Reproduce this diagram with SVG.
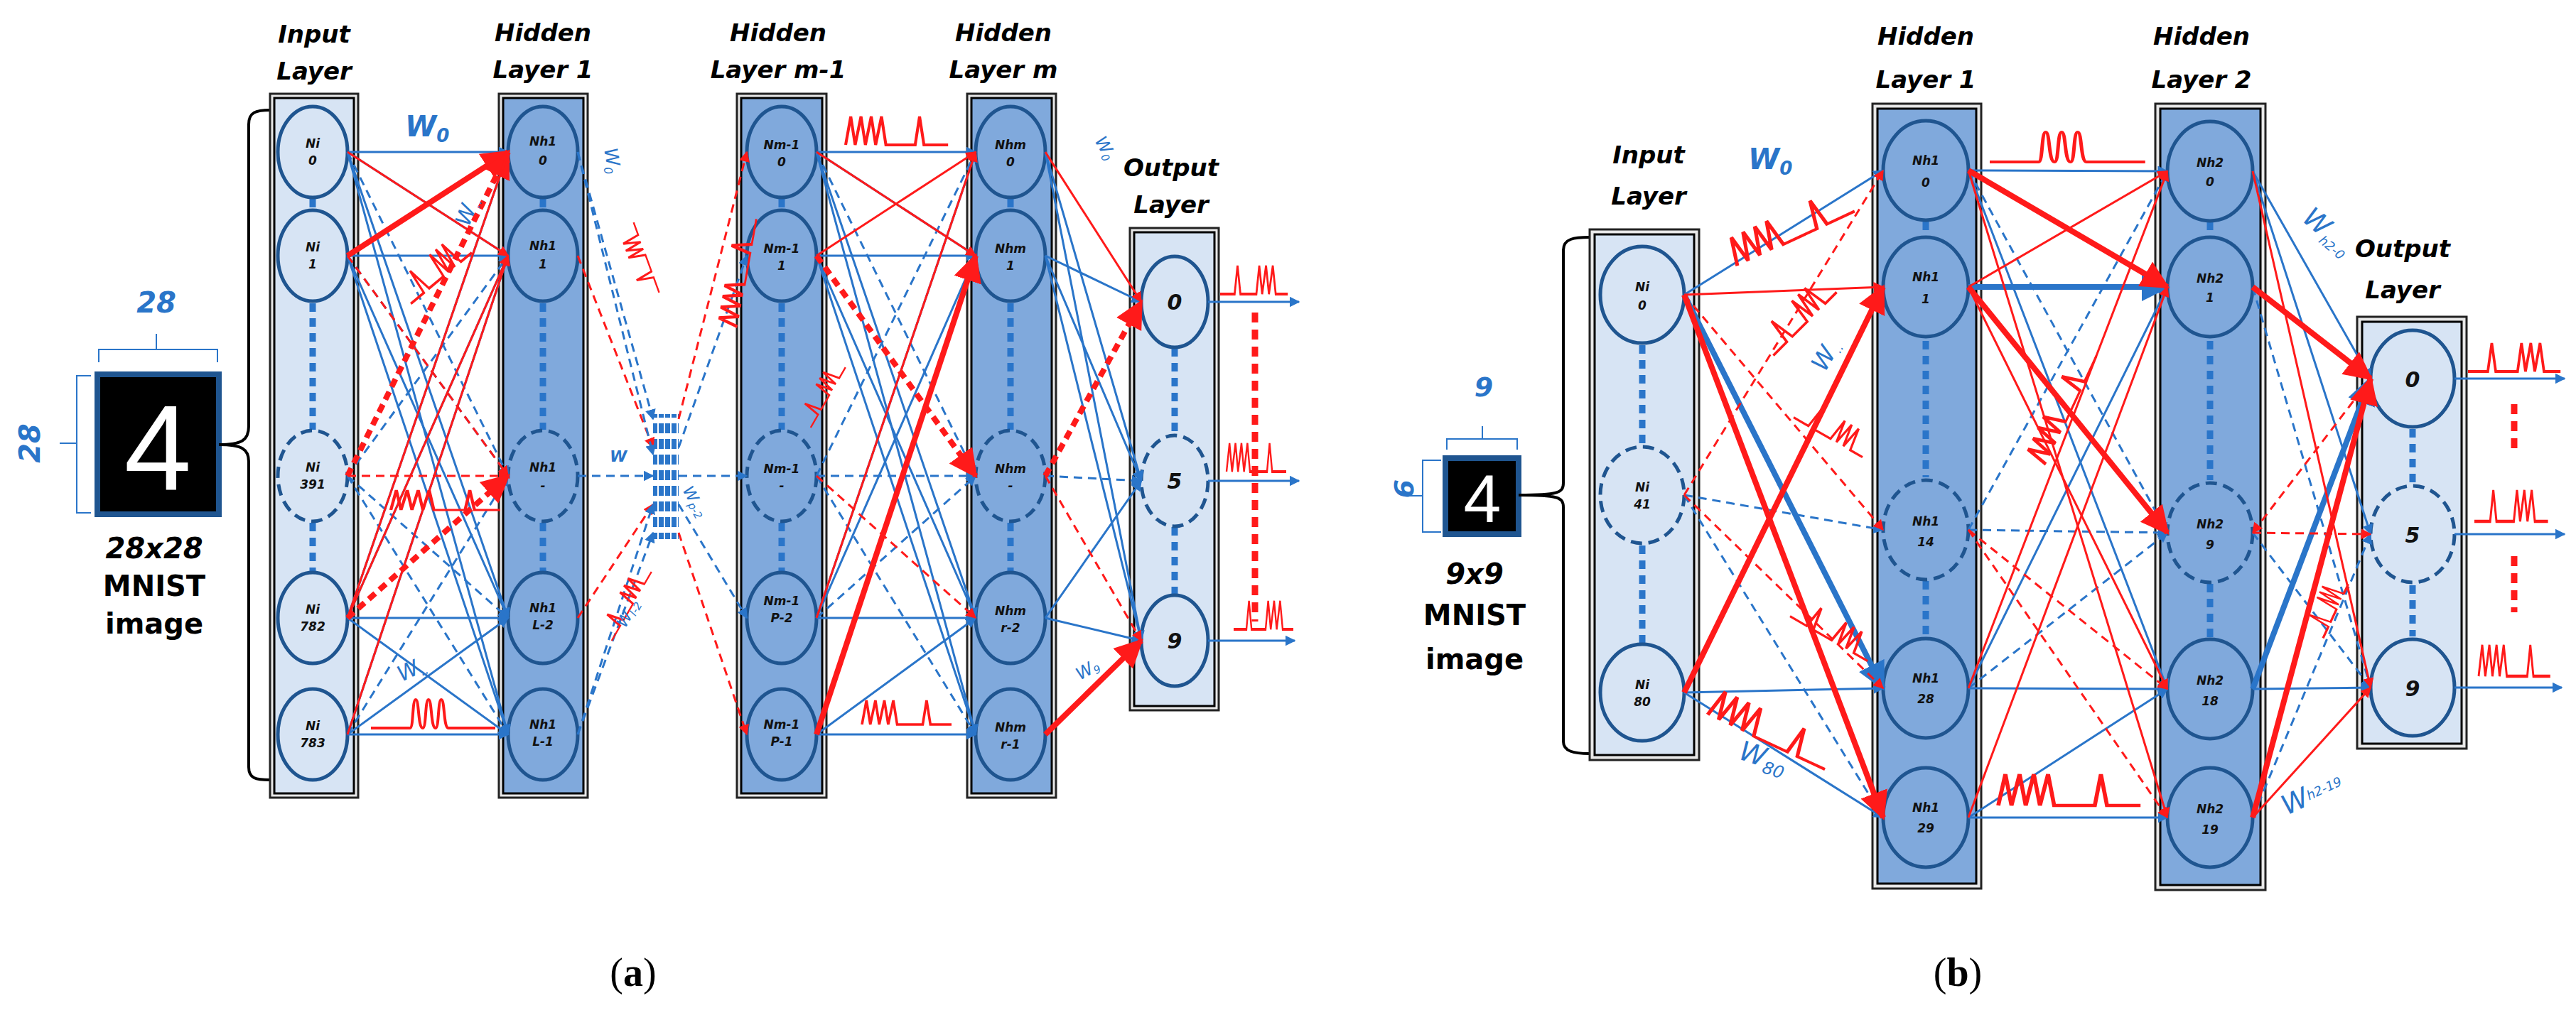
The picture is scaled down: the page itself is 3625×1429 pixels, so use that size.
<svg xmlns="http://www.w3.org/2000/svg" width="3625" height="1429" viewBox="0 0 3625 1429">
<style>
.title{font-family:"DejaVu Sans",sans-serif;font-weight:bold;font-style:italic;font-size:34px;fill:#000;text-anchor:middle}
.nl{font-family:"DejaVu Sans",sans-serif;font-weight:bold;font-style:italic;font-size:17px;fill:#111;text-anchor:middle}
.ol{font-family:"DejaVu Sans",sans-serif;font-weight:bold;font-style:italic;font-size:30px;fill:#111;text-anchor:middle}
.wl{font-family:"DejaVu Sans",sans-serif;font-style:italic;fill:#2a75c9}
.bl{font-family:"DejaVu Sans",sans-serif;font-weight:bold;font-style:italic;fill:#2a75c9;text-anchor:middle}
.cap{font-family:"Liberation Serif",serif;font-size:56px;fill:#000;text-anchor:middle}
.img{font-family:"DejaVu Sans",sans-serif;font-weight:bold;font-size:40px;fill:#000;text-anchor:middle}
.boxL{fill:#d7e4f4;stroke:#000;stroke-width:3}
.boxD{fill:#80a9dc;stroke:#000;stroke-width:3}
.outer{fill:#e8e8e8;stroke:#222;stroke-width:3}
.nd{fill:#d7e4f4;stroke:#1f5590;stroke-width:5}
.ndD{fill:#80a9dc;stroke:#1f5590;stroke-width:5}
.dash{stroke-dasharray:16 9}
.vdot{stroke:#2a75c9;stroke-width:9;stroke-dasharray:12 9;fill:none}
.b{stroke:#2a75c9;stroke-width:3;fill:none;marker-end:url(#ab)}
.bt{stroke:#2a75c9;stroke-width:8;fill:none;marker-end:url(#ab)}
.r{stroke:#ff1a1a;stroke-width:3;fill:none;marker-end:url(#ar)}
.rt{stroke:#ff1a1a;stroke-width:8;fill:none;marker-end:url(#ar)}
.d{stroke-dasharray:12 8}
.sp{stroke:#ff1a1a;stroke-width:4;fill:none}
.rdot{stroke:#ff1a1a;stroke-width:9;stroke-dasharray:14 10;fill:none}
.br{fill:none;stroke:#000;stroke-width:4}
.brb{fill:none;stroke:#2a75c9;stroke-width:2}
</style>
<defs>
<marker id="ab" viewBox="0 0 10 10" refX="9" refY="5" markerWidth="5" markerHeight="5" orient="auto" markerUnits="strokeWidth"><path d="M0,0 L10,5 L0,10 z" fill="#2a75c9"/></marker>
<marker id="ar" viewBox="0 0 10 10" refX="9" refY="5" markerWidth="5" markerHeight="5" orient="auto" markerUnits="strokeWidth"><path d="M0,0 L10,5 L0,10 z" fill="#ff1a1a"/></marker>
<pattern id="grid" width="9" height="22" patternUnits="userSpaceOnUse"><rect x="0" y="2" width="7" height="14" fill="#2a75c9"/></pattern>
<path id="t3" d="M0,40 H55 C60,40 58,0 63,0 C68,0 66,40 73,40 C78,40 76,0 81,0 C86,0 84,40 91,40 C96,40 94,0 99,0 C104,0 102,40 109,40 H175"/>
<path id="t5" d="M0,40 L7,0 L13,40 L21,0 L27,40 L35,0 L41,40 L49,0 L55,40 H95 L101,0 L107,40 H140"/>
<path id="t4" d="M0,40 H30 L36,0 L42,40 H75 L81,0 L87,40 L95,0 L101,40 L109,0 L115,40 H140"/>
</defs>

<!-- ============ PANEL A ============ -->
<g id="a-image">
<rect x="137" y="527" width="171" height="197" fill="#000" stroke="#1f5590" stroke-width="8"/>
<text x="222" y="690" font-family="Liberation Sans, sans-serif" font-size="170" fill="#fff" text-anchor="middle">4</text>
<path class="brb" d="M139,510 V492 H220 V470 M220,492 H306 V510"/>
<text class="bl" x="220" y="440" font-size="40">28</text>
<path class="brb" d="M128,529 H108 V624 H84 M108,624 V722 H128"/>
<text class="bl" x="0" y="0" font-size="40" transform="translate(56,624) rotate(-90)">28</text>
<text class="img" x="217" y="786" font-style="italic">28x28</text>
<text class="img" x="217" y="839">MNIST</text>
<text class="img" x="217" y="892">image</text>
<path class="br" d="M380,155 C360,155 350,158 350,175 V600 C350,620 340,626 308,626 C340,626 350,632 350,650 V1080 C350,1096 360,1098 380,1098"/>
</g>

<g id="a-input">
<rect class="outer" x="380" y="132" width="124" height="991"/>
<rect class="boxL" x="386" y="138" width="112" height="979"/>
<text class="title" x="442" y="60">Input</text><text class="title" x="442" y="112">Layer</text>
<path class="vdot" d="M440,280 V605 M440,736 V805"/>
<ellipse class="nd" cx="440" cy="214" rx="49" ry="64"/>
<ellipse class="nd" cx="440" cy="360" rx="49" ry="64"/>
<ellipse class="nd dash" cx="440" cy="670" rx="49" ry="64"/>
<ellipse class="nd" cx="440" cy="870" rx="49" ry="64"/>
<ellipse class="nd" cx="440" cy="1034" rx="49" ry="64"/>
<text class="nl" x="440" y="208">Ni</text><text class="nl" x="440" y="232" font-size="11">0</text>
<text class="nl" x="440" y="354">Ni</text><text class="nl" x="440" y="378" font-size="11">1</text>
<text class="nl" x="440" y="664">Ni</text><text class="nl" x="440" y="688" font-size="11">391</text>
<text class="nl" x="440" y="864">Ni</text><text class="nl" x="440" y="888" font-size="11">782</text>
<text class="nl" x="440" y="1028">Ni</text><text class="nl" x="440" y="1052" font-size="11">783</text>
</g>

<g id="a-h1">
<rect class="outer" x="702" y="132" width="125" height="991"/>
<rect class="boxD" x="708" y="138" width="113" height="979"/>
<text class="title" x="764" y="58">Hidden</text><text class="title" x="764" y="110">Layer 1</text>
<path class="vdot" d="M764,280 V605 M764,736 V805"/>
<ellipse class="ndD" cx="764" cy="214" rx="49" ry="64"/>
<ellipse class="ndD" cx="764" cy="360" rx="49" ry="64"/>
<ellipse class="ndD dash" cx="764" cy="670" rx="49" ry="64"/>
<ellipse class="ndD" cx="764" cy="870" rx="49" ry="64"/>
<ellipse class="ndD" cx="764" cy="1034" rx="49" ry="64"/>
<text class="nl" x="764" y="205">Nh1</text><text class="nl" x="764" y="232">0</text>
<text class="nl" x="764" y="352">Nh1</text><text class="nl" x="764" y="378" font-size="12">1</text>
<text class="nl" x="764" y="664">Nh1</text><text class="nl" x="764" y="690" font-size="12">-</text>
<text class="nl" x="764" y="862">Nh1</text><text class="nl" x="764" y="886" font-size="12">L-2</text>
<text class="nl" x="764" y="1026">Nh1</text><text class="nl" x="764" y="1050" font-size="12">L-1</text>
</g>

<g id="a-cluster">
<rect x="919" y="583" width="36" height="176" fill="url(#grid)"/>
</g>

<g id="a-hm1">
<rect class="outer" x="1037" y="132" width="126" height="991"/>
<rect class="boxD" x="1043" y="138" width="114" height="979"/>
<text class="title" x="1095" y="58">Hidden</text><text class="title" x="1095" y="110">Layer m-1</text>
<path class="vdot" d="M1100,280 V605 M1100,736 V805"/>
<ellipse class="ndD" cx="1100" cy="214" rx="49" ry="64"/>
<ellipse class="ndD" cx="1100" cy="360" rx="49" ry="64"/>
<ellipse class="ndD dash" cx="1100" cy="670" rx="49" ry="64"/>
<ellipse class="ndD" cx="1100" cy="870" rx="49" ry="64"/>
<ellipse class="ndD" cx="1100" cy="1034" rx="49" ry="64"/>
<text class="nl" x="1100" y="210">Nm-1</text><text class="nl" x="1100" y="234" font-size="12">0</text>
<text class="nl" x="1100" y="356">Nm-1</text><text class="nl" x="1100" y="380" font-size="12">1</text>
<text class="nl" x="1100" y="666">Nm-1</text><text class="nl" x="1100" y="690" font-size="12">-</text>
<text class="nl" x="1100" y="852">Nm-1</text><text class="nl" x="1100" y="876" font-size="12">P-2</text>
<text class="nl" x="1100" y="1026">Nm-1</text><text class="nl" x="1100" y="1050" font-size="12">P-1</text>
</g>

<g id="a-hm">
<rect class="outer" x="1361" y="132" width="125" height="991"/>
<rect class="boxD" x="1367" y="138" width="113" height="979"/>
<text class="title" x="1412" y="58">Hidden</text><text class="title" x="1412" y="110">Layer m</text>
<path class="vdot" d="M1422,280 V605 M1422,736 V805"/>
<ellipse class="ndD" cx="1422" cy="214" rx="49" ry="64"/>
<ellipse class="ndD" cx="1422" cy="360" rx="49" ry="64"/>
<ellipse class="ndD dash" cx="1422" cy="670" rx="49" ry="64"/>
<ellipse class="ndD" cx="1422" cy="870" rx="49" ry="64"/>
<ellipse class="ndD" cx="1422" cy="1034" rx="49" ry="64"/>
<text class="nl" x="1422" y="210">Nhm</text><text class="nl" x="1422" y="234" font-size="12">0</text>
<text class="nl" x="1422" y="356">Nhm</text><text class="nl" x="1422" y="380" font-size="12">1</text>
<text class="nl" x="1422" y="666">Nhm</text><text class="nl" x="1422" y="690" font-size="12">-</text>
<text class="nl" x="1422" y="866">Nhm</text><text class="nl" x="1422" y="890" font-size="12">r-2</text>
<text class="nl" x="1422" y="1030">Nhm</text><text class="nl" x="1422" y="1054" font-size="12">r-1</text>
</g>

<g id="a-out">
<rect class="outer" x="1590" y="321" width="125" height="679"/>
<rect class="boxL" x="1596" y="327" width="113" height="667"/>
<text class="title" x="1648" y="248">Output</text><text class="title" x="1648" y="300">Layer</text>
<path class="vdot" d="M1653,490 V612 M1653,742 V838"/>
<ellipse class="nd" cx="1653" cy="425" rx="47" ry="64"/>
<ellipse class="nd dash" cx="1653" cy="677" rx="47" ry="64"/>
<ellipse class="nd" cx="1653" cy="902" rx="47" ry="64"/>
<text class="ol" x="1653" y="436">0</text><text class="ol" x="1653" y="688">5</text><text class="ol" x="1653" y="913">9</text>
</g>

<!-- ============ PANEL B ============ -->
<g id="b-image">
<rect x="2034" y="645" width="103" height="107" fill="#000" stroke="#1f5590" stroke-width="8"/>
<text x="2086" y="735" font-family="Liberation Sans, sans-serif" font-size="95" fill="#fff" text-anchor="middle">4</text>
<path class="brb" d="M2036,633 V618 H2086 V600 M2086,618 H2135 V633"/>
<text class="bl" x="2088" y="558" font-size="38">9</text>
<path class="brb" d="M2028,648 H2002 V698 H1980 M2002,698 V749 H2028"/>
<text class="bl" x="0" y="0" font-size="38" transform="translate(1962,688) rotate(90)">9</text>
<text class="img" x="2075" y="822" font-style="italic">9x9</text>
<text class="img" x="2075" y="880">MNIST</text>
<text class="img" x="2075" y="942">image</text>
<path class="br" d="M2237,334 C2215,334 2200,336 2200,352 V680 C2200,694 2192,697 2137,697 C2192,697 2200,700 2200,714 V1044 C2200,1058 2215,1061 2237,1061"/>
</g>

<g id="b-input">
<rect class="outer" x="2237" y="323" width="154" height="747"/>
<rect class="boxL" x="2244" y="330" width="140" height="733"/>
<text class="title" x="2320" y="230">Input</text><text class="title" x="2320" y="288">Layer</text>
<path class="vdot" d="M2311,486 V626 M2311,768 V905"/>
<ellipse class="nd" cx="2311" cy="415" rx="59" ry="68"/>
<ellipse class="nd dash" cx="2311" cy="697" rx="59" ry="68"/>
<ellipse class="nd" cx="2311" cy="975" rx="59" ry="68"/>
<text class="nl" x="2311" y="410" font-size="20">Ni</text><text class="nl" x="2311" y="436" font-size="13">0</text>
<text class="nl" x="2311" y="692" font-size="20">Ni</text><text class="nl" x="2311" y="716" font-size="13">41</text>
<text class="nl" x="2311" y="970" font-size="20">Ni</text><text class="nl" x="2311" y="994" font-size="13">80</text>
</g>

<g id="b-h1">
<rect class="outer" x="2635" y="146" width="153" height="1105"/>
<rect class="boxD" x="2642" y="153" width="139" height="1091"/>
<text class="title" x="2710" y="63">Hidden</text><text class="title" x="2710" y="124">Layer 1</text>
<path class="vdot" d="M2710,312 V672 M2710,818 V896"/>
<ellipse class="ndD" cx="2710" cy="240" rx="60" ry="70"/>
<ellipse class="ndD" cx="2710" cy="404" rx="60" ry="70"/>
<ellipse class="ndD dash" cx="2710" cy="746" rx="60" ry="70"/>
<ellipse class="ndD" cx="2710" cy="969" rx="60" ry="70"/>
<ellipse class="ndD" cx="2710" cy="1151" rx="60" ry="70"/>
<text class="nl" x="2710" y="232" font-size="21">Nh1</text><text class="nl" x="2710" y="263" font-size="19">0</text>
<text class="nl" x="2710" y="396" font-size="21">Nh1</text><text class="nl" x="2710" y="427" font-size="16">1</text>
<text class="nl" x="2710" y="740" font-size="21">Nh1</text><text class="nl" x="2710" y="769" font-size="15">14</text>
<text class="nl" x="2710" y="961" font-size="21">Nh1</text><text class="nl" x="2710" y="990" font-size="15">28</text>
<text class="nl" x="2710" y="1143" font-size="21">Nh1</text><text class="nl" x="2710" y="1172" font-size="15">29</text>
</g>

<g id="b-h2">
<rect class="outer" x="3033" y="146" width="155" height="1107"/>
<rect class="boxD" x="3040" y="153" width="141" height="1093"/>
<text class="title" x="3098" y="63">Hidden</text><text class="title" x="3098" y="124">Layer 2</text>
<path class="vdot" d="M3110,312 V676 M3110,822 V898"/>
<ellipse class="ndD" cx="3110" cy="241" rx="60" ry="70"/>
<ellipse class="ndD" cx="3110" cy="404" rx="60" ry="70"/>
<ellipse class="ndD dash" cx="3110" cy="750" rx="60" ry="70"/>
<ellipse class="ndD" cx="3110" cy="970" rx="60" ry="70"/>
<ellipse class="ndD" cx="3110" cy="1151" rx="60" ry="70"/>
<text class="nl" x="3110" y="235" font-size="21">Nh2</text><text class="nl" x="3110" y="262" font-size="15">0</text>
<text class="nl" x="3110" y="398" font-size="21">Nh2</text><text class="nl" x="3110" y="425" font-size="15">1</text>
<text class="nl" x="3110" y="744" font-size="21">Nh2</text><text class="nl" x="3110" y="773" font-size="15">9</text>
<text class="nl" x="3110" y="964" font-size="21">Nh2</text><text class="nl" x="3110" y="993" font-size="15">18</text>
<text class="nl" x="3110" y="1145" font-size="21">Nh2</text><text class="nl" x="3110" y="1174" font-size="15">19</text>
</g>

<g id="b-out">
<rect class="outer" x="3317" y="446" width="154" height="608"/>
<rect class="boxL" x="3324" y="453" width="140" height="594"/>
<text class="title" x="3381" y="362">Output</text><text class="title" x="3381" y="420">Layer</text>
<path class="vdot" d="M3395,604 V680 M3395,824 V896"/>
<ellipse class="nd" cx="3395" cy="533" rx="59" ry="68"/>
<ellipse class="nd dash" cx="3395" cy="752" rx="59" ry="68"/>
<ellipse class="nd" cx="3395" cy="968" rx="59" ry="68"/>
<text class="ol" x="3395" y="545">0</text><text class="ol" x="3395" y="764">5</text><text class="ol" x="3395" y="980">9</text>
</g>

<g id="connectors">
<!-- A: input -> H1 blue -->
<line class="b" x1="489" y1="214" x2="715" y2="214" stroke-width="5"/>
<line class="b" x1="489" y1="214" x2="715" y2="360"/>
<line class="b d" x1="489" y1="214" x2="715" y2="670"/>
<line class="b" x1="489" y1="214" x2="715" y2="870"/>
<line class="b" x1="489" y1="214" x2="715" y2="1034"/>
<line class="b" x1="489" y1="360" x2="715" y2="214"/>
<line class="b" x1="489" y1="360" x2="715" y2="360"/>
<line class="b d" x1="489" y1="360" x2="715" y2="670"/>
<line class="b" x1="489" y1="360" x2="715" y2="870" stroke-width="5"/>
<line class="b" x1="489" y1="360" x2="715" y2="1034"/>
<line class="b d" x1="489" y1="670" x2="715" y2="214"/>
<line class="b d" x1="489" y1="670" x2="715" y2="360"/>
<line class="b d" x1="489" y1="670" x2="715" y2="870"/>
<line class="b d" x1="489" y1="670" x2="715" y2="1034"/>
<line class="b" x1="489" y1="870" x2="715" y2="214"/>
<line class="b" x1="489" y1="870" x2="715" y2="360"/>
<line class="b" x1="489" y1="870" x2="715" y2="870"/>
<line class="b" x1="489" y1="870" x2="715" y2="1034"/>
<line class="b" x1="489" y1="1034" x2="715" y2="360"/>
<line class="b d" x1="489" y1="1034" x2="715" y2="670"/>
<line class="b" x1="489" y1="1034" x2="715" y2="870"/>
<line class="b" x1="489" y1="1034" x2="715" y2="1034"/>
<!-- A: input -> H1 red -->
<line class="r" x1="489" y1="214" x2="715" y2="360"/>
<line class="rt" x1="489" y1="360" x2="715" y2="214" stroke-width="5"/>
<line class="r d" x1="489" y1="360" x2="715" y2="670"/>
<line class="rt d" x1="489" y1="670" x2="715" y2="214"/>
<line class="r d" x1="489" y1="670" x2="715" y2="670" stroke-width="4"/>
<line class="rt d" x1="489" y1="870" x2="715" y2="670" stroke-width="6"/>
<line class="r" x1="489" y1="870" x2="715" y2="214"/>
<line class="r" x1="489" y1="870" x2="715" y2="360"/>
<line class="r" x1="489" y1="1034" x2="715" y2="360"/>
<!-- A: H1 -> cluster -->
<line class="b d" x1="813" y1="214" x2="919" y2="590"/>
<line class="r d" x1="813" y1="360" x2="919" y2="630"/>
<line class="b d" x1="813" y1="670" x2="919" y2="670"/>
<line class="r d" x1="813" y1="870" x2="919" y2="710"/>
<line class="b d" x1="813" y1="1034" x2="919" y2="750"/>
<line class="b d" x1="813" y1="214" x2="919" y2="640"/>
<line class="b d" x1="813" y1="1034" x2="919" y2="710"/>
<!-- A: cluster -> Hm-1 -->
<line class="r d" x1="955" y1="590" x2="1051" y2="214"/>
<line class="b d" x1="955" y1="630" x2="1051" y2="360"/>
<line class="b d" x1="955" y1="670" x2="1051" y2="670"/>
<line class="b d" x1="955" y1="710" x2="1051" y2="870"/>
<line class="r d" x1="955" y1="750" x2="1051" y2="1034"/>
<!-- A: Hm-1 -> Hm blue -->
<line class="b" x1="1149" y1="214" x2="1373" y2="214"/>
<line class="b" x1="1149" y1="214" x2="1373" y2="360"/>
<line class="b d" x1="1149" y1="214" x2="1373" y2="670"/>
<line class="b" x1="1149" y1="214" x2="1373" y2="870"/>
<line class="b" x1="1149" y1="214" x2="1373" y2="1034"/>
<line class="b" x1="1149" y1="360" x2="1373" y2="360"/>
<line class="b" x1="1149" y1="360" x2="1373" y2="870" stroke-width="5"/>
<line class="b" x1="1149" y1="360" x2="1373" y2="1034"/>
<line class="b d" x1="1149" y1="670" x2="1373" y2="214"/>
<line class="b d" x1="1149" y1="670" x2="1373" y2="670"/>
<line class="b d" x1="1149" y1="670" x2="1373" y2="1034"/>
<line class="b" x1="1149" y1="870" x2="1373" y2="214"/>
<line class="b" x1="1149" y1="870" x2="1373" y2="360"/>
<line class="b d" x1="1149" y1="870" x2="1373" y2="670"/>
<line class="b" x1="1149" y1="870" x2="1373" y2="870"/>
<line class="b" x1="1149" y1="1034" x2="1373" y2="360"/>
<line class="b" x1="1149" y1="1034" x2="1373" y2="870"/>
<line class="b" x1="1149" y1="1034" x2="1373" y2="1034"/>
<!-- A: Hm-1 -> Hm red -->
<line class="r" x1="1149" y1="214" x2="1373" y2="360"/>
<line class="r" x1="1149" y1="360" x2="1373" y2="214"/>
<line class="rt d" x1="1149" y1="360" x2="1373" y2="670"/>
<line class="r d" x1="1149" y1="670" x2="1373" y2="870"/>
<line class="r" x1="1149" y1="870" x2="1373" y2="214"/>
<line class="rt" x1="1149" y1="1034" x2="1373" y2="360" stroke-width="6"/>
<!-- A: Hm -> out -->
<line class="b" x1="1471" y1="214" x2="1606" y2="677"/>
<line class="b" x1="1471" y1="214" x2="1606" y2="902"/>
<line class="b" x1="1471" y1="360" x2="1606" y2="425"/>
<line class="b" x1="1471" y1="360" x2="1606" y2="677" stroke-width="5"/>
<line class="b" x1="1471" y1="360" x2="1606" y2="902"/>
<line class="b d" x1="1471" y1="670" x2="1606" y2="677"/>
<line class="b" x1="1471" y1="870" x2="1606" y2="677"/>
<line class="b" x1="1471" y1="870" x2="1606" y2="902"/>
<line class="r" x1="1471" y1="214" x2="1606" y2="425"/>
<line class="rt d" x1="1471" y1="670" x2="1606" y2="425"/>
<line class="r d" x1="1471" y1="670" x2="1606" y2="902"/>
<line class="rt" x1="1471" y1="1034" x2="1606" y2="902" stroke-width="5"/>
<!-- A: outputs -->
<line class="b" x1="1700" y1="425" x2="1828" y2="425"/>
<line class="b" x1="1700" y1="677" x2="1828" y2="677"/>
<line class="b" x1="1700" y1="902" x2="1822" y2="902"/>
<path class="rdot" d="M1766,440 V875"/>

<!-- B: input -> H1 -->
<line class="b" x1="2370" y1="415" x2="2650" y2="240"/>
<line class="bt" x1="2370" y1="415" x2="2650" y2="969" stroke-width="6"/>
<line class="b d" x1="2370" y1="697" x2="2650" y2="746" stroke-width="5"/>
<line class="b d" x1="2370" y1="697" x2="2650" y2="1151" stroke-width="5"/>
<line class="b" x1="2370" y1="975" x2="2650" y2="969"/>
<line class="b" x1="2370" y1="975" x2="2650" y2="1151"/>
<line class="r" x1="2370" y1="415" x2="2650" y2="404"/>
<line class="rt" x1="2370" y1="415" x2="2650" y2="1151" stroke-width="6"/>
<line class="r d" x1="2370" y1="415" x2="2650" y2="746" stroke-width="4"/>
<line class="r d" x1="2370" y1="697" x2="2650" y2="240"/>
<line class="r d" x1="2370" y1="697" x2="2650" y2="969"/>
<line class="rt" x1="2370" y1="975" x2="2650" y2="404" stroke-width="5"/>
<!-- B: H1 -> H2 blue -->
<line class="b" x1="2770" y1="240" x2="3050" y2="241"/>
<line class="b d" x1="2770" y1="240" x2="3050" y2="750"/>
<line class="b" x1="2770" y1="240" x2="3050" y2="970"/>
<line class="bt" x1="2770" y1="404" x2="3050" y2="404"/>
<line class="b d" x1="2770" y1="746" x2="3050" y2="241" stroke-width="5"/>
<line class="b d" x1="2770" y1="746" x2="3050" y2="750"/>
<line class="b d" x1="2770" y1="969" x2="3050" y2="750" stroke-width="4"/>
<line class="b" x1="2770" y1="969" x2="3050" y2="404"/>
<line class="b" x1="2770" y1="969" x2="3050" y2="970"/>
<line class="b" x1="2770" y1="1151" x2="3050" y2="970"/>
<line class="b" x1="2770" y1="1151" x2="3050" y2="1151"/>
<!-- B: H1 -> H2 red -->
<line class="rt" x1="2770" y1="240" x2="3050" y2="404"/>
<line class="r" x1="2770" y1="240" x2="3050" y2="1151"/>
<line class="r" x1="2770" y1="404" x2="3050" y2="970"/>
<line class="rt" x1="2770" y1="404" x2="3050" y2="750" stroke-width="5"/>
<line class="r" x1="2770" y1="404" x2="3050" y2="241"/>
<line class="r d" x1="2770" y1="746" x2="3050" y2="970"/>
<line class="r d" x1="2770" y1="746" x2="3050" y2="1151"/>
<line class="r" x1="2770" y1="969" x2="3050" y2="241"/>
<line class="r" x1="2770" y1="1151" x2="3050" y2="404" stroke-width="4"/>
<!-- B: H2 -> out -->
<line class="b" x1="3170" y1="241" x2="3336" y2="533"/>
<line class="b" x1="3170" y1="241" x2="3336" y2="752"/>
<line class="b d" x1="3170" y1="404" x2="3336" y2="968"/>
<line class="b d" x1="3170" y1="750" x2="3336" y2="968" stroke-width="5"/>
<line class="bt" x1="3170" y1="970" x2="3336" y2="533"/>
<line class="b" x1="3170" y1="970" x2="3336" y2="968"/>
<line class="b d" x1="3170" y1="1151" x2="3336" y2="752"/>
<line class="r" x1="3170" y1="241" x2="3336" y2="968"/>
<line class="rt" x1="3170" y1="404" x2="3336" y2="533" stroke-width="5"/>
<line class="r d" x1="3336" y1="533" x2="3170" y2="750"/>
<line class="r d" x1="3170" y1="750" x2="3336" y2="752"/>
<line class="rt" x1="3170" y1="1151" x2="3336" y2="533" stroke-width="9"/>
<line class="r" x1="3170" y1="1151" x2="3336" y2="968"/>
<!-- B: outputs -->
<line class="b" x1="3454" y1="533" x2="3609" y2="533"/>
<line class="b" x1="3454" y1="752" x2="3609" y2="752"/>
<line class="b" x1="3454" y1="968" x2="3605" y2="968"/>
<path class="rdot" d="M3538,569 V640 M3538,783 V862"/>
</g>

<g id="spikes">
<use href="#t3" class="sp" transform="translate(522,985)"/>
<use href="#t5" class="sp" transform="translate(1190,164) scale(1.03,1)"/>
<use href="#t5" class="sp" transform="translate(1213,986) scale(0.9,0.85)"/>
<use href="#t4" class="sp" transform="translate(1717,374) scale(0.68,1)"/>
<use href="#t5" class="sp" transform="translate(1726,624) scale(0.6,1)"/>
<use href="#t4" class="sp" transform="translate(1736,846) scale(0.6,1)"/>
<use href="#t4" class="sp" transform="translate(555,400) rotate(-40) scale(0.8,0.9)"/>
<use href="#t5" class="sp" transform="translate(550,690) scale(1.1,0.7)"/>
<use href="#t4" class="sp" transform="translate(905,420) rotate(-110) scale(0.75,0.6)"/>
<use href="#t5" class="sp" transform="translate(1010,455) rotate(-80) scale(1.1,0.7)"/>
<use href="#t4" class="sp" transform="translate(840,890) rotate(-60) scale(0.8,0.6)"/>
<use href="#t4" class="sp" transform="translate(1120,590) rotate(-60) scale(0.7,0.6)"/>
<use href="#t3" class="sp" transform="translate(2800,186) scale(1.25,1.05)"/>
<use href="#t5" class="sp" transform="translate(2812,1090) scale(1.43,1.1)"/>
<use href="#t4" class="sp" transform="translate(3473,483) scale(0.93,1)"/>
<use href="#t4" class="sp" transform="translate(3482,690) scale(0.74,1.1)"/>
<use href="#t5" class="sp" transform="translate(3488,908) scale(0.72,1.1)"/>
<use href="#t5" class="sp" transform="translate(2428,338) rotate(-25) scale(1.3,1)"/>
<use href="#t4" class="sp" transform="translate(2470,475) rotate(-45) scale(0.9,0.9)"/>
<use href="#t4" class="sp" transform="translate(2540,560) rotate(30) scale(0.8,0.8)"/>
<use href="#t4" class="sp" transform="translate(2535,840) rotate(30) scale(0.9,0.8)"/>
<use href="#t5" class="sp" transform="translate(2420,970) rotate(25) scale(1.3,1)"/>
<use href="#t5" class="sp" transform="translate(2850,640) rotate(-65) scale(1.2,0.8)"/>
<use href="#t4" class="sp" transform="translate(3240,885) rotate(-65) scale(0.6,0.8)"/>
</g>

<g id="weight-labels">
<text class="wl" x="570" y="192" font-size="40" font-weight="bold">W<tspan font-size="26" dy="8">0</tspan></text>
<text class="wl" x="0" y="0" font-size="26" transform="translate(850,210) rotate(80)">W<tspan font-size="16" dy="5">0</tspan></text>
<text class="wl" x="0" y="0" font-size="30" transform="translate(660,320) rotate(-70)">W<tspan font-size="18" dy="5">..</tspan></text>
<text class="wl" x="0" y="0" font-size="30" transform="translate(565,960) rotate(-25)">W<tspan font-size="18" dy="5">..</tspan></text>
<text class="wl" x="858" y="650" font-size="22" font-weight="bold">W</text>
<text class="wl" x="0" y="0" font-size="22" transform="translate(960,690) rotate(60)">W<tspan font-size="15" dy="4">p-2</tspan></text>
<text class="wl" x="0" y="0" font-size="22" transform="translate(880,885) rotate(-60)">W<tspan font-size="15" dy="4">l-2</tspan></text>
<text class="wl" x="0" y="0" font-size="24" transform="translate(1540,198) rotate(60)">W<tspan font-size="15" dy="4">0</tspan></text>
<text class="wl" x="0" y="0" font-size="24" transform="translate(1520,958) rotate(-30)">W<tspan font-size="15" dy="4">9</tspan></text>
<text class="wl" x="2460" y="238" font-size="40" font-weight="bold">W<tspan font-size="26" dy="8">0</tspan></text>
<text class="wl" x="0" y="0" font-size="34" transform="translate(2568,525) rotate(-60)">W<tspan font-size="18" dy="5">..</tspan></text>
<text class="wl" x="0" y="0" font-size="38" transform="translate(2445,1068) rotate(18)">W<tspan font-size="24" dy="8">80</tspan></text>
<text class="wl" x="0" y="0" font-size="38" transform="translate(3238,310) rotate(40)">W<tspan font-size="18" dy="8">h2-0</tspan></text>
<text class="wl" x="0" y="0" font-size="38" transform="translate(3218,1148) rotate(-25)">W<tspan font-size="18" dy="-6">h2-19</tspan></text>
</g>

<text class="cap" x="891" y="1388">(<tspan font-weight="bold">a</tspan>)</text>
<text class="cap" x="2755" y="1388">(<tspan font-weight="bold">b</tspan>)</text>
</svg>
